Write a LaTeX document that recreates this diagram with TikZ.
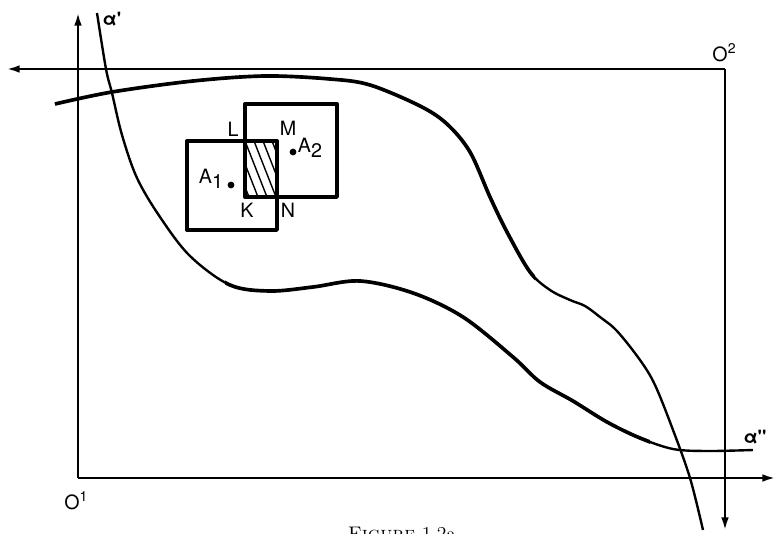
\documentclass[tikz,border=0pt]{standalone}
\usepackage{fontspec}
\newfontfamily\figfont{TeX Gyre Heros}
\usepackage{tikz}
\usetikzlibrary{arrows.meta,positioning,calc}

\tikzset{
  axis/.style={line width=1.5pt},
  curvethin/.style={line width=1.7pt},
  curvebold/.style={line width=2.6pt},
  square/.style={line width=2.4pt},
  hatch/.style={line width=1pt},
  dot/.style={circle, fill, inner sep=0pt, minimum size=4.8pt},
  lbl/.style={font={\figfont\fontsize{14}{16}\selectfont}, inner sep=0pt},
}

\begin{document}
\begin{tikzpicture}[x=0.025cm, y=-0.025cm, >={Latex[length=9pt,width=5.5pt]}, line join=round]
    \useasboundingbox (0,0) rectangle (778,534);

    % frame
    \coordinate (O1) at (78,478);
    \coordinate (O2) at (725,69);
    \coordinate (ytip) at (78,13);
    \coordinate (xtip) at (7,69);
    \coordinate (dtip) at (725,530);
    \coordinate (rtip) at (775,478);
    \draw[axis, ->] (O1) -- (ytip);
    \draw[axis, ->] (O2) -- (xtip);
    \draw[axis, ->] (O2) -- (dtip);
    \draw[axis, ->] (O1) -- (rtip);

    % curve alpha
    \def\curvea{plot[smooth, tension=0.55] coordinates {(97,13) (106,69) (112,93) (122,135) (137,178) (160,217) (190,256) (230,285) (270,291) (313,287) (360,281) (413,293) (463,317) (513,357) (540,382) (573,401) (607,422) (640,438) (673,449) (707,451) (753,450)}}
    \draw[curvethin] \curvea;
    \begin{scope}
        \clip (225,0) rectangle (650,534);
        \draw[curvebold] \curvea;
    \end{scope}

    % second curve
    \def\curveb{plot[smooth, tension=0.55] coordinates {(55,104) (112,92) (193,81) (265,76) (330,79) (370,85) (420,106) (447,124) (470,152) (490,197) (507,232) (530,272) (550,290) (570,300) (585,306) (600,317) (617,331) (640,360) (655,385) (673,430) (690,478) (703,530)}}
    \draw[curvethin] \curveb;
    \begin{scope}
        \clip (0,0) rectangle (535,534);
        \draw[curvebold] \curveb;
    \end{scope}

    % squares
    \begin{scope}
        \clip (245,141) rectangle (277,197);
        \foreach \x in {218,227,...,290}
            \draw[hatch] (\x,141) -- ++(22,56);
    \end{scope}
    \draw[square] (187,141) rectangle (277,230);
    \draw[square] (245,104) rectangle (337,197);
    \node[dot] (a1) at (231,185) {};
    \node[dot] (a2) at (293,152) {};

    \node[lbl] (lA1) at (211,179) {A\raisebox{-4pt}{1}};
    \node[lbl] (lA2) at (310,148) {A\raisebox{-4pt}{2}};
    \node[lbl] (lL) at (233,129) {L};
    \node[lbl] (lM) at (288,128) {M};
    \node[lbl] (lK) at (247,210) {K};
    \node[lbl] (lN) at (288,210) {N};

    \node[lbl] (lO1) at (76,501) {O\raisebox{5.5pt}{\fontsize{10}{11}\selectfont 1}};
    \node[lbl] (lO2) at (724,53) {O\raisebox{5.5pt}{\fontsize{10}{11}\selectfont 2}};
    \node[lbl, font={\figfont\bfseries\fontsize{13}{15}\selectfont}] (lalpha1) at (112,19) {α\textquotesingle};
    \node[lbl, font={\figfont\bfseries\fontsize{13}{15}\selectfont}] (lalpha2) at (755,437) {α\textquotesingle\textquotesingle};

    \node[font=\fontsize{14}{16}\selectfont, anchor=north, inner sep=0pt] (cap) at (402,527) {\textsc{Figure} 1.2a};
\end{tikzpicture}
\end{document}
